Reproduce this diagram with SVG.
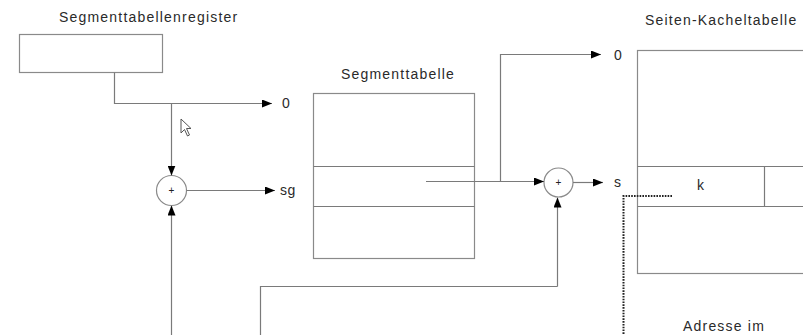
<svg xmlns="http://www.w3.org/2000/svg" width="803" height="335" viewBox="0 0 803 335">
  <style>
    .box { fill: #fff; stroke: #8a8a8a; stroke-width: 1.2; }
    .ln { fill: none; stroke: #7a7a7a; stroke-width: 1.2; }
    .title { font-family: "Liberation Sans", Arial, sans-serif; font-size: 14px; letter-spacing: 1.2px; fill: #2a2a2a; }
    .lbl { font-family: "Liberation Sans", Arial, sans-serif; font-size: 14px; letter-spacing: 0.5px; fill: #2a2a2a; }
    .op { font-family: "Liberation Sans", Arial, sans-serif; font-size: 10px; fill: #222; text-anchor: middle; }
    .dot { fill: none; stroke: #222; stroke-width: 2; stroke-dasharray: 1.6 1.2; }
  </style>
  <defs>
    <marker id="arr" viewBox="0 0 10 8" refX="10" refY="4" markerWidth="10" markerHeight="8" markerUnits="userSpaceOnUse" orient="auto">
      <path d="M0,0 L10,4 L0,8 Z" fill="#000"/>
    </marker>
  </defs>
  <rect width="803" height="335" fill="#fff"/>

  <!-- segment table register -->
  <g id="register">
    <text class="title" x="59" y="22">Segmenttabellenregister</text>
    <rect class="box" x="19.5" y="34.5" width="143" height="38"/>
  </g>

  <!-- segment table -->
  <g id="segmenttabelle">
    <text class="title" x="341" y="79">Segmenttabelle</text>
    <rect class="box" x="313.5" y="93.5" width="161" height="165"/>
    <line class="ln" x1="313.5" y1="166.5" x2="474.5" y2="166.5"/>
    <line class="ln" x1="313.5" y1="206.5" x2="474.5" y2="206.5"/>
  </g>

  <!-- page/frame table -->
  <g id="seitenkacheltabelle">
    <text class="title" x="645" y="25">Seiten-Kacheltabelle</text>
    <rect class="box" x="637.5" y="50.5" width="180" height="223"/>
    <line class="ln" x1="637.5" y1="166.5" x2="803" y2="166.5"/>
    <line class="ln" x1="637.5" y1="206.5" x2="803" y2="206.5"/>
    <line class="ln" x1="764.5" y1="166.5" x2="764.5" y2="206.5"/>
    <text class="lbl" x="697" y="190">k</text>
  </g>

  <!-- lower box (offset register), its right edge feeds the second adder -->
  <g id="offsetbox">
    <path class="ln" d="M260.5,335 V286.5 H557.5"/>
  </g>

  <!-- adders -->
  <g id="adder1">
    <circle cx="171.5" cy="190.5" r="15" fill="#fff" stroke="#8a8a8a" stroke-width="1.2"/>
    <text class="op" x="171.5" y="194">+</text>
  </g>
  <g id="adder2">
    <circle cx="558.5" cy="182.5" r="14.5" fill="#fff" stroke="#8a8a8a" stroke-width="1.2"/>
    <text class="op" x="558.5" y="186">+</text>
  </g>

  <!-- labels at arrow ends -->
  <g id="labels">
    <text class="lbl" x="282" y="108">0</text>
    <text class="lbl" x="280" y="195">sg</text>
    <text class="lbl" x="614" y="60">0</text>
    <text class="lbl" x="614" y="187">s</text>
    <text class="title" x="683" y="331">Adresse im</text>
  </g>

  <!-- connectors -->
  <g id="connectors">
    <path class="ln" d="M114.5,72.5 V103.5 H272" marker-end="url(#arr)"/>
    <path class="ln" d="M171.5,103.5 V175.5" marker-end="url(#arr)"/>
    <path class="ln" d="M171.5,335 V205.5" marker-end="url(#arr)"/>
    <path class="ln" d="M186.5,190.5 H275" marker-end="url(#arr)"/>
    <path class="ln" d="M426,181.5 H544" marker-end="url(#arr)"/>
    <path class="ln" d="M500.5,181.5 V54.5 H601" marker-end="url(#arr)"/>
    <path class="ln" d="M557.5,286.5 V197.5" marker-end="url(#arr)"/>
    <path class="ln" d="M573,182.5 H603" marker-end="url(#arr)"/>
    <path class="dot" d="M672,196 H623.5 V335"/>
  </g>

  <!-- mouse pointer -->
  <g id="pointer">
    <path d="M181,119 V133 L184.5,129.5 L187.5,136 L189.5,135 L186.5,128.5 L191,128.5 Z" fill="#fff" stroke="#555" stroke-width="1"/>
  </g>
</svg>
